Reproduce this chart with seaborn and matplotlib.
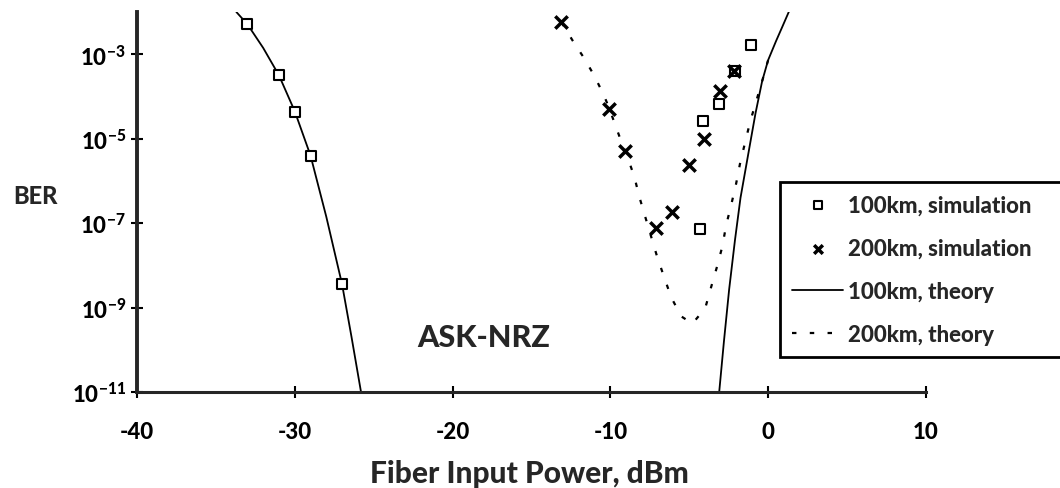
import numpy as np
import seaborn as sns
import matplotlib.pyplot as plt
from matplotlib.ticker import NullLocator

# values, BER kept as log10
sim100_x = [-33, -31, -30, -29, -27, -4.3, -4.1, -3.1, -2.1, -1.1]
sim100_log = [-2.29, -3.5, -4.36, -5.4, -8.45, -7.14, -4.57, -4.17, -3.4, -2.79]

sim200_x = [-13.1, -10.1, -9.05, -7.1, -6.1, -5.0, -4.05, -3.05, -2.15]
sim200_log = [-2.24, -4.29, -5.29, -7.12, -6.74, -5.62, -5.0, -3.86, -3.4]

th100_left_x = [-33.7, -33.0, -32.0, -31.0, -30.0, -29.0, -28.0, -27.0, -26.4, -25.8]
th100_left_log = [-2.0, -2.29, -2.85, -3.5, -4.35, -5.4, -6.85, -8.45, -9.7, -11.0]

th100_right_x = [-3.1, -2.8, -2.47, -2.1, -1.75, -1.2, -0.8, -0.38, 0.0, 0.5, 0.9, 1.33]
th100_right_log = [-11.0, -9.8, -8.57, -7.4, -6.4, -5.24, -4.4, -3.64, -3.14, -2.69, -2.35, -1.98]

th200_x = [-13.1, -12.4, -11.65, -11.0, -10.4, -10.06, -9.44, -9.05, -8.48, -8.16, -7.78,
           -7.03, -6.58, -6.14, -5.5, -4.8, -3.99, -3.6, -3.23, -2.9, -2.66, -2.34,
           -2.03, -1.77, -1.14, -0.76, -0.38, 0.0]
th200_log = [-2.24, -2.67, -3.1, -3.52, -3.98, -4.29, -4.93, -5.29, -5.9, -6.38, -6.86,
             -7.8, -8.29, -8.76, -9.21, -9.38, -9.02, -8.5, -8.02, -7.55, -7.05, -6.57,
             -6.07, -5.57, -4.6, -4.12, -3.64, -3.14]

yticks = [1e-3, 1e-5, 1e-7, 1e-9, 1e-11]
ytick_labels = [r'$10^{-3}$', r'$10^{-5}$', r'$10^{-7}$', r'$10^{-9}$', r'$10^{-11}$']
xticks = [-40, -30, -20, -10, 0, 10]
legend_order = ['100km, simulation', '200km, simulation', '100km, theory', '200km, theory']

sns.set_style("ticks")
plt.rcParams['font.family'] = ['Lato', 'DejaVu Sans']
plt.rcParams['font.weight'] = 'black'
plt.rcParams['axes.labelweight'] = 'black'
plt.rcParams['axes.unicode_minus'] = False
plt.rcParams['mathtext.fontset'] = 'custom'
plt.rcParams['mathtext.rm'] = 'Lato:black'
plt.rcParams['mathtext.bf'] = 'Lato:black'
plt.rcParams['mathtext.default'] = 'bf'

fig = plt.figure(figsize=(10.6, 4.89), dpi=100)
ax = fig.add_axes([0.1292, 0.1963, 0.7443, 0.7771])
ax.set_yscale('log')

sns.lineplot(x=th100_left_x, y=10 ** np.array(th100_left_log), color='black', lw=1.3,
             sort=False, estimator=None, ax=ax, label='100km, theory')
sns.lineplot(x=th100_right_x, y=10 ** np.array(th100_right_log), color='black', lw=1.3,
             sort=False, estimator=None, ax=ax)
sns.lineplot(x=th200_x, y=10 ** np.array(th200_log), color='black', lw=1.6,
             linestyle=(0, (2, 6)), sort=False, estimator=None, ax=ax, label='200km, theory')

sns.scatterplot(x=sim100_x, y=10 ** np.array(sim100_log), marker='s', s=60, facecolor='white',
                edgecolor='black', linewidth=1.5, zorder=3, ax=ax, label='100km, simulation')
sns.scatterplot(x=sim200_x, y=10 ** np.array(sim200_log), marker='x', s=80, color='black',
                linewidth=2.5, zorder=3, ax=ax, label='200km, simulation')

ax.set_xlim(-40, 10)
ax.set_ylim(1e-11, 1e-2)
ax.set_xticks(xticks)
ax.set_yticks(yticks)
ax.set_yticklabels(ytick_labels)
ax.yaxis.set_minor_locator(NullLocator())
sns.despine(ax=ax)
ax.spines['left'].set_linewidth(2.8)
ax.spines['bottom'].set_linewidth(2.2)
ax.tick_params(direction='inout', length=8, width=1.5, labelsize=16, colors='black')
ax.tick_params(axis='x', pad=17)
ax.tick_params(axis='y', pad=4)

ax.set_xlabel('Fiber Input Power, dBm', fontsize=21.5, fontweight='black')
ax.xaxis.set_label_coords(0.497, -0.213)
ax.xaxis.label.set_va('center')
ax.set_ylabel('BER', fontsize=17, fontweight='black', rotation=0)
ax.yaxis.set_label_coords(-0.129, 0.516)
ax.yaxis.label.set_va('center')
ax.yaxis.label.set_ha('center')

ax.text(-18, 10 ** -9.7, 'ASK-NRZ', ha='center', va='center', fontsize=22, fontweight='black')

handles, labels = ax.get_legend_handles_labels()
lookup = dict(zip(labels, handles))
leg = ax.legend([lookup[l] for l in legend_order], legend_order, loc='upper left',
                bbox_to_anchor=(0.7358, 1 - 353 / 489, 0.30, 170 / 489),
                bbox_transform=fig.transFigure, mode='expand',
                frameon=True, fancybox=False, edgecolor='black', framealpha=1,
                fontsize=16, handlelength=2.3, labelspacing=1.0, borderpad=0.55,
                handletextpad=0.2, borderaxespad=0, markerscale=0.7)
leg.get_frame().set_linewidth(2)

fig.savefig('out.png', dpi=100)
